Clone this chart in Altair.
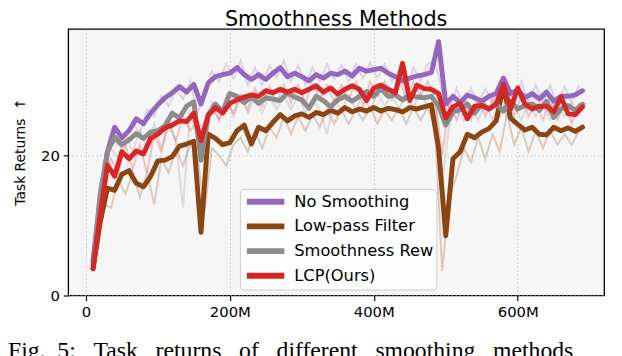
import altair as alt
import pandas as pd

# Environment steps in millions (smoothed curves)
steps = list(range(10, 700, 10))
# Steps of the faint raw curves (offset by half a step)
raw_steps = list(range(15, 690, 10))

no_smoothing = [5.0, 13.5, 20.5, 24.0, 22.5, 23.5, 25.2, 24.5, 26.0, 27.2,
                28.2, 28.9, 29.8, 29.0, 30.1, 27.3, 30.3, 31.2, 31.5, 31.7,
                32.5, 31.5, 30.8, 31.5, 30.8, 31.7, 32.5, 31.2, 31.7, 31.2,
                30.6, 31.5, 31.0, 31.7, 31.5, 32.0, 31.3, 32.4, 32.0, 32.2,
                32.4, 31.7, 31.2, 30.6, 31.0, 31.3, 31.5, 31.8, 36.2, 27.3,
                28.4, 27.5, 28.6, 28.2, 27.7, 28.4, 28.8, 31.0, 28.8, 29.3,
                28.2, 28.8, 28.0, 29.0, 27.7, 28.4, 28.4, 28.6, 29.2]

low_pass = [3.8, 10.5, 15.3, 15.0, 17.3, 17.8, 16.0, 15.5, 17.0, 19.2,
            19.3, 19.8, 21.3, 21.6, 22.0, 9.0, 23.0, 22.4, 21.5, 21.8,
            23.5, 24.3, 21.6, 24.0, 23.5, 24.7, 25.8, 24.9, 25.6, 25.9,
            25.4, 26.1, 25.8, 26.4, 26.0, 26.8, 26.2, 26.6, 26.3, 26.8,
            26.3, 26.7, 26.5, 26.2, 26.8, 26.6, 26.9, 27.2, 21.0, 8.5,
            19.5, 20.5, 23.0, 22.5, 23.3, 23.8, 24.9, 29.8, 25.3, 24.4,
            23.6, 24.0, 23.0, 22.9, 24.0, 23.5, 23.9, 23.4, 24.0]

smoothness_rew = [4.5, 14.5, 20.5, 22.6, 21.5, 22.2, 23.1, 22.4, 23.3, 23.5,
                  24.2, 26.0, 25.3, 27.0, 27.6, 19.3, 25.8, 27.3, 26.2, 28.8,
                  28.4, 27.5, 28.3, 27.4, 28.2, 28.0, 27.8, 28.9, 28.3, 27.9,
                  26.7, 28.4, 27.8, 26.9, 27.9, 28.4, 27.7, 28.4, 29.1, 28.4,
                  29.5, 28.4, 28.6, 27.9, 28.6, 28.3, 28.2, 28.4, 27.0, 24.3,
                  26.2, 26.5, 27.3, 26.0, 27.3, 26.6, 27.3, 26.3, 27.7, 26.6,
                  27.1, 27.3, 26.4, 27.7, 25.4, 26.6, 27.1, 26.4, 27.3]

lcp = [3.8, 11.5, 18.6, 17.0, 20.5, 19.5, 20.6, 20.2, 22.4, 23.0,
       23.9, 24.3, 24.9, 24.8, 26.0, 22.1, 25.7, 26.8, 26.0, 27.4,
       27.9, 28.3, 28.6, 28.4, 29.2, 28.9, 29.4, 29.0, 29.4, 28.9,
       29.4, 29.9, 29.0, 29.6, 28.7, 29.4, 29.9, 29.4, 27.8, 29.6,
       30.0, 29.4, 28.9, 33.1, 27.8, 30.0, 29.5, 29.4, 28.8, 25.3,
       26.9, 27.4, 25.2, 27.0, 27.1, 26.6, 27.3, 30.1, 26.6, 29.6,
       27.3, 26.6, 27.0, 27.0, 26.2, 28.3, 25.9, 25.8, 26.9]

# Faint raw (unsmoothed) curves
no_smoothing_raw = [9.0, 18.0, 22.0, 21.5, 23.0, 24.8, 23.0, 26.5, 25.5, 28.5,
                    27.0, 29.5, 28.0, 30.5, 26.0, 29.0, 32.0, 30.5, 33.0, 31.0,
                    33.5, 30.0, 32.5, 30.0, 32.8, 31.0, 33.5, 30.5, 32.8, 30.0,
                    32.5, 30.5, 33.0, 30.8, 32.8, 30.5, 33.0, 31.0, 33.2, 31.0,
                    33.0, 30.5, 32.0, 29.5, 32.5, 30.5, 33.0, 33.5, 29.0, 26.5,
                    29.5, 27.0, 29.5, 27.5, 29.5, 27.5, 30.0, 29.5, 27.5, 30.5,
                    27.5, 30.0, 27.5, 30.0, 27.0, 29.8, 27.5, 30.0]

low_pass_raw = [7.0, 13.0, 12.5, 16.5, 14.5, 17.5, 14.0, 17.5, 13.0, 19.5,
                17.5, 21.0, 18.5, 21.5, 20.0, 12.0, 21.0, 20.0, 18.5, 21.5,
                22.5, 20.5, 23.5, 21.0, 24.0, 22.5, 25.5, 23.0, 25.5, 23.5,
                25.8, 24.0, 26.5, 24.5, 26.5, 24.5, 26.5, 25.0, 26.8, 24.5,
                26.5, 25.0, 26.8, 24.5, 26.8, 25.0, 26.8, 24.0, 3.5, 14.0,
                17.0, 21.0, 19.0, 22.5, 19.5, 23.0, 20.5, 26.0, 21.5, 24.0,
                20.5, 23.5, 21.0, 23.5, 21.5, 23.0, 21.5, 23.5]

smoothness_rew_raw = [10.0, 19.0, 21.0, 19.5, 23.0, 20.5, 23.5, 21.0, 24.5, 21.0,
                      25.0, 22.0, 12.5, 26.5, 22.0, 20.0, 27.5, 25.0, 28.5, 25.5,
                      28.5, 26.0, 28.5, 26.0, 28.5, 26.5, 28.5, 26.5, 28.5, 26.0,
                      28.0, 26.5, 23.0, 28.0, 26.5, 28.5, 26.5, 29.0, 26.5, 29.0,
                      27.0, 28.5, 26.5, 28.8, 27.0, 28.8, 27.0, 28.0, 16.0, 24.5,
                      26.5, 25.0, 27.0, 25.0, 27.5, 25.0, 27.5, 25.5, 27.0, 25.0,
                      27.5, 25.5, 27.5, 25.0, 27.0, 25.5, 27.5, 26.0]

lcp_raw = [8.0, 16.0, 19.5, 17.5, 21.5, 18.0, 21.5, 17.5, 23.0, 20.5,
           24.5, 22.0, 25.5, 23.5, 25.0, 23.5, 27.0, 25.0, 28.0, 26.0,
           28.5, 26.5, 29.5, 27.0, 29.8, 27.5, 30.0, 27.5, 30.0, 27.5,
           30.2, 28.0, 30.0, 27.5, 30.0, 28.0, 30.5, 27.0, 30.5, 28.5,
           30.5, 28.0, 31.0, 28.0, 30.5, 28.5, 30.5, 28.0, 20.0, 27.5,
           25.0, 28.0, 25.0, 28.0, 25.5, 28.0, 25.5, 28.5, 25.5, 28.5,
           25.5, 27.5, 25.0, 28.0, 25.0, 27.5, 24.5, 27.5]

methods = ["No Smoothing", "Low-pass Filter", "Smoothness Rew", "LCP(Ours)"]
colors = ["#9467bd", "#8b4513", "#8c8c8c", "#d62728"]
raw_colors = ["rgba(148,103,189,0.25)", "rgba(139,69,19,0.25)",
              "rgba(140,140,140,0.25)", "rgba(214,39,40,0.25)"]
series = [no_smoothing, low_pass, smoothness_rew, lcp]
raw_series = [no_smoothing_raw, low_pass_raw, smoothness_rew_raw, lcp_raw]

x_ticks = [0, 200, 400, 600]
y_ticks = [0, 20]

chart_title = "Smoothness Methods"
y_title = "Task Returns\u00a0\u00a0\u2191"
caption = "Fig.\u00a0\u00a05:\u00a0\u00a0\u00a0Task\u00a0\u00a0\u00a0returns\u00a0\u00a0\u00a0of\u00a0\u00a0\u00a0different\u00a0\u00a0\u00a0smoothing\u00a0\u00a0\u00a0methods"

rows = []
for k, (name, vals) in enumerate(zip(methods, series)):
    for s, v in zip(steps, vals):
        rows.append({"step": s, "value": v, "method": name, "k": k})
df = pd.DataFrame(rows)

raw_rows = []
for name, col, vals in zip(methods, raw_colors, raw_series):
    for s, v in zip(raw_steps, vals):
        raw_rows.append({"step": s, "value": v, "method": name, "col": col})
df_raw = pd.DataFrame(raw_rows)

W, H = 543, 270

x_enc = alt.X("step:Q",
              scale=alt.Scale(domain=[-24.5, 720], nice=False, zero=False),
              axis=alt.Axis(values=x_ticks, title=None,
                            labelExpr="datum.value == 0 ? '0' : datum.value + 'M'"))
y_enc = alt.Y("value:Q",
              scale=alt.Scale(domain=[0, 38], nice=False),
              axis=alt.Axis(values=y_ticks, title=y_title,
                            titleX=-48, titleY=124, titleAngle=270,
                            titleAlign="center", titleBaseline="middle",
                            titleFontSize=14, titleFontWeight="normal"))

raw = alt.Chart(df_raw).mark_line(strokeWidth=2).encode(
    x=x_enc,
    y=alt.Y("value:Q"),
    color=alt.Color("col:N", scale=None),
    detail="method:N",
)

lines = alt.Chart(df).mark_line(strokeWidth=5, strokeJoin="round", strokeCap="round").encode(
    x=x_enc,
    y=y_enc,
    color=alt.Color("method:N",
                    scale=alt.Scale(domain=methods, range=colors),
                    sort=methods,
                    legend=alt.Legend(orient="none", legendX=174, legendY=162,
                                      title=None, symbolType="M-2.5,0H2.5",
                                      symbolStrokeWidth=6, symbolSize=231,
                                      symbolOffset=13, symbolOpacity=1,
                                      labelFontSize=16.5, labelFont="DejaVu Sans",
                                      labelColor="#000000", labelOffset=18,
                                      padding=2, rowPadding=1,
                                      fillColor="rgba(255,255,255,0.8)",
                                      strokeColor="#cccccc", cornerRadius=4)),
    order=alt.Order("k:Q"),
)

title_txt = alt.Chart(pd.DataFrame({"t": [chart_title]})).mark_text(
    align="center", baseline="alphabetic", font="DejaVu Sans", fontSize=21,
    color="#000000"
).encode(x=alt.value(W / 2), y=alt.value(-3), text="t:N")

cap = alt.Chart(pd.DataFrame({"t": [caption]})).mark_text(
    align="left", baseline="alphabetic", font="Liberation Serif", fontSize=24,
    color="#000000"
).encode(x=alt.value(-61), y=alt.value(333), text="t:N")

chart = alt.layer(raw, lines, title_txt, cap).properties(
    width=W, height=H,
    autosize=alt.AutoSizeParams(type="none"),
    padding={"left": 61, "top": 19, "right": 10, "bottom": 59},
).configure_view(
    fill="#f6f6f6", stroke="#000000", strokeWidth=1.3
).configure_axis(
    domain=False, ticks=True, tickSize=5, tickColor="#000000", tickWidth=1.2,
    labelFont="DejaVu Sans", labelFontSize=15, labelColor="#000000",
    labelPadding=4, grid=True, gridColor="#c8c8c8", gridDash=[1.5, 2.5],
    gridWidth=1, titleFont="DejaVu Sans", titleColor="#000000"
)

chart.save("out.html", embed_options={"renderer": "svg", "actions": False})
